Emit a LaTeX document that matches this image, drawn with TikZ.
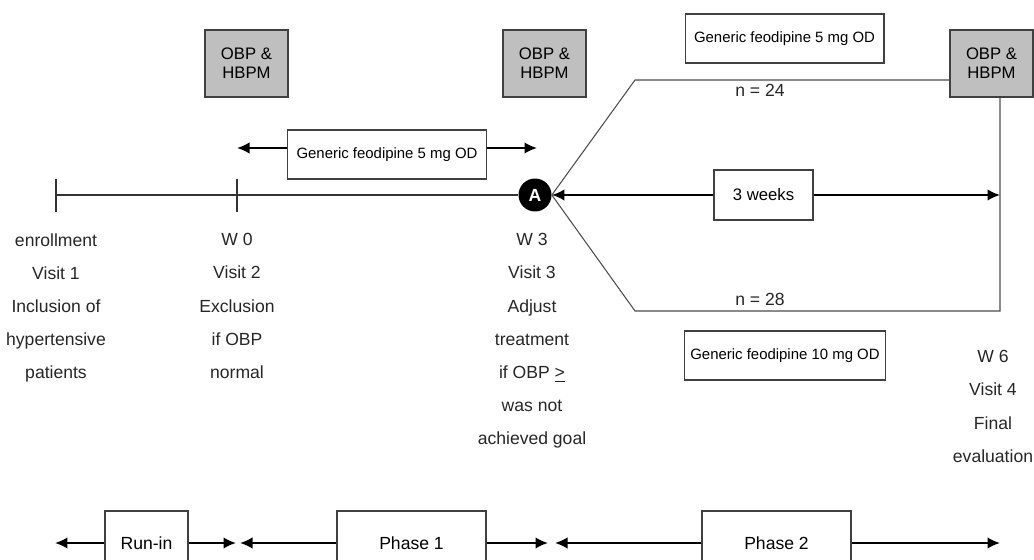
\documentclass[tikz,border=0pt]{standalone}
\usepackage{fontspec}
\setmainfont{Liberation Sans}
\usetikzlibrary{arrows.meta, positioning}

\tikzset{
  obpbox/.style={draw=black!75, fill=black!25, line width=0.6pt, minimum width=1.66cm, minimum height=1.34cm, align=center, font=\fontsize{9.5}{11}\selectfont},
  drugbox/.style={draw=black!75, fill=white, line width=0.6pt, minimum width=3.98cm, minimum height=0.98cm, font=\fontsize{8.5}{10}\selectfont},
  phasebox/.style={draw=black!75, fill=white, line width=0.6pt, minimum height=1.28cm, font=\fontsize{10}{12}\selectfont},
  lbl/.style={align=center, inner sep=0pt, text=black!85, font=\fontsize{10}{18.9}\selectfont},
  arr/.style={line width=1.1pt, -{Latex[length=2.5mm,width=2.3mm]}},
  axis/.style={draw=black!80, line width=0.7pt},
  branch/.style={draw=black!70, line width=0.6pt},
}

\begin{document}
\begin{tikzpicture}[x=0.02cm, y=-0.02cm]
\useasboundingbox (0,0) rectangle (1034,560);

% visit boxes
\node[obpbox] (obp1) at (246.5,63.5) {OBP \&\\HBPM};
\node[obpbox] (obp2) at (544.5,63.5) {OBP \&\\HBPM};
\node[obpbox] (obp3) at (991.5,63.5) {OBP \&\\HBPM};

% time line
\node[circle, fill=black, text=white, inner sep=0pt, minimum size=0.66cm,
      font=\bfseries\fontsize{10}{12}\selectfont] (A) at (535,195) {A};
\coordinate (t0) at (56,195);
\coordinate (t1) at (237,195);
\draw[axis] (t0) -- (A);
\draw[axis] ([yshift=0.32cm]t0) -- ([yshift=-0.34cm]t0);
\draw[axis] ([yshift=0.32cm]t1) -- ([yshift=-0.34cm]t1);

% run-in treatment
\node[drugbox] (gen1) at (387,154.5) {Generic feodipine 5 mg OD};
\coordinate (g0) at (237,148);
\coordinate (g1) at (537,148);
\draw[arr] (gen1.west |- g0) -- (g0);
\draw[arr] (gen1.east |- g1) -- (g1);

% the two arms
\coordinate (up) at (635,80);
\coordinate (lo) at (635,311);
\coordinate (w6) at (1000,195);
\draw[branch] (A.east) -- (up) -- (up -| obp3.west);
\draw[branch] (A.east) -- (lo) -- (lo -| w6) -- (w6 |- obp3.south);
\node[drugbox] (gen2) at (784.5,38.5) {Generic feodipine 5 mg OD};
\node[drugbox] (gen3) at (785,355.5) {Generic feodipine 10 mg OD};
\node[lbl] (n24) at (760,90) {n = 24};
\node[lbl] (n28) at (760,299) {n = 28};

\node[drugbox, minimum width=1.98cm, minimum height=1cm, font=\fontsize{9.5}{11}\selectfont] (wk) at (763.5,195) {3 weeks};
\draw[arr] (wk.west) -- (A.east);
\draw[arr] (wk.east) -- (w6);

% visit texts
\node[lbl, anchor=north] (c1) at (56,233) {enrollment\\Visit 1\\Inclusion of\\hypertensive\\patients};
\node[lbl, anchor=north] (c2) at (237,233) {W 0\\Visit 2\\Exclusion\\if OBP\\normal};
\node[lbl, anchor=north] (c3) at (532,233) {W 3\\Visit 3\\Adjust\\treatment\\if OBP \underline{>}\\was not\\achieved goal};
\node[lbl, anchor=north] (c4) at (993,350) {W 6\\Visit 4\\Final\\evaluation};

% phases
\node[phasebox, minimum width=1.66cm] (runin) at (146.5,543) {Run-in};
\node[phasebox, minimum width=2.98cm] (phase1) at (411.5,543) {Phase 1};
\node[phasebox, minimum width=2.98cm] (phase2) at (776.5,543) {Phase 2};
\coordinate (b0) at (55,543);
\coordinate (b1) at (236,543);
\coordinate (b2) at (240,543);
\coordinate (b3) at (548,543);
\coordinate (b4) at (555,543);
\coordinate (b5) at (1000,543);
\draw[arr] (runin.west) -- (b0);
\draw[arr] (runin.east) -- (b1);
\draw[arr] (phase1.west) -- (b2);
\draw[arr] (phase1.east) -- (b3);
\draw[arr] (phase2.west) -- (b4);
\draw[arr] (phase2.east) -- (b5);
\end{tikzpicture}
\end{document}
